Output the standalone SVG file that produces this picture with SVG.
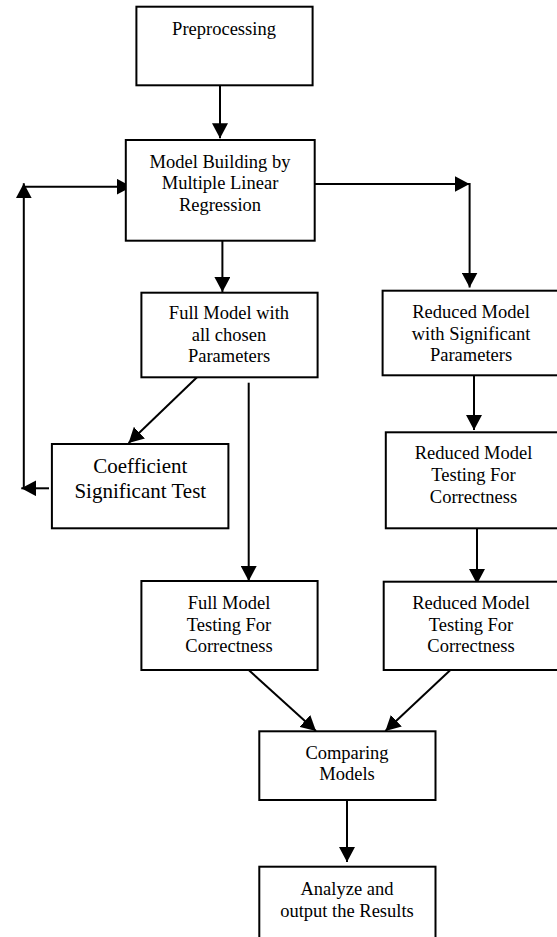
<svg xmlns="http://www.w3.org/2000/svg" width="557" height="937" viewBox="0 0 557 937">
<style>
.box{fill:#fff;stroke:#000;stroke-width:2}
.t{font-family:"Liberation Serif","Times New Roman",serif;font-size:18.5px;fill:#000;text-anchor:middle}
.big{font-size:21px}
.c{fill:none;stroke:#000;stroke-width:2}
</style>
<defs>
<marker id="ah" viewBox="0 0 15 16" refX="15" refY="8" markerWidth="15" markerHeight="16" orient="auto" markerUnits="userSpaceOnUse">
<path d="M0 0 L15 8 L0 16 Z" fill="#000"/>
</marker>
</defs>
<rect width="557" height="937" fill="#fff"/>
<g id="connectors">
<path class="c" d="M220 85.3 V138.3" marker-end="url(#ah)"/>
<path class="c" d="M222.4 240.7 V292" marker-end="url(#ah)"/>
<path class="c" d="M314.7 184 H469.6" marker-end="url(#ah)"/>
<path class="c" d="M469.6 183 V287.5" marker-end="url(#ah)"/>
<path class="c" d="M197 377.3 L128.6 443" marker-end="url(#ah)"/>
<path class="c" d="M248.7 382.7 V581" marker-end="url(#ah)"/>
<path class="c" d="M474 375.3 V430" marker-end="url(#ah)"/>
<path class="c" d="M477 524 V584" marker-end="url(#ah)"/>
<path class="c" d="M49 488.3 H21.3" marker-end="url(#ah)"/>
<path class="c" d="M23.8 489 V183.3" marker-end="url(#ah)"/>
<path class="c" d="M23.8 186.7 H131.7" marker-end="url(#ah)"/>
<path class="c" d="M248.7 670 L316 731" marker-end="url(#ah)"/>
<path class="c" d="M450.4 670 L385.4 731" marker-end="url(#ah)"/>
<path class="c" d="M347 800 V862" marker-end="url(#ah)"/>
</g>
<g id="preprocessing">
<rect class="box" x="136.4" y="6.7" width="176.2" height="78.6"/>
<text class="t" x="224" y="35">Preprocessing</text>
</g>
<g id="model-building">
<rect class="box" x="125.8" y="140" width="188.9" height="100.7"/>
<text class="t" x="220" y="168.3">Model Building by</text>
<text class="t" x="220" y="189.3">Multiple Linear</text>
<text class="t" x="220" y="210.7">Regression</text>
</g>
<g id="full-model">
<rect class="box" x="141.4" y="292.7" width="176.2" height="84.6"/>
<text class="t" x="229" y="319.3">Full Model with</text>
<text class="t" x="229" y="341">all chosen</text>
<text class="t" x="229" y="362">Parameters</text>
</g>
<g id="reduced-model">
<rect class="box" x="382.6" y="290.7" width="200" height="84.6"/>
<text class="t" x="471" y="318.3">Reduced Model</text>
<text class="t" x="471" y="340">with Significant</text>
<text class="t" x="471" y="361">Parameters</text>
</g>
<g id="coefficient-test">
<rect class="box" x="51.9" y="444" width="176.5" height="84.3"/>
<text class="t big" x="140.3" y="472.7">Coefficient</text>
<text class="t big" x="140.3" y="497.7">Significant Test</text>
</g>
<g id="reduced-testing-1">
<rect class="box" x="385.8" y="432.3" width="200" height="96"/>
<text class="t" x="473.5" y="459.3">Reduced Model</text>
<text class="t" x="473.5" y="481">Testing For</text>
<text class="t" x="473.5" y="502.7">Correctness</text>
</g>
<g id="full-testing">
<rect class="box" x="141.4" y="581" width="176.2" height="89"/>
<text class="t" x="229" y="609">Full Model</text>
<text class="t" x="229" y="630.7">Testing For</text>
<text class="t" x="229" y="652.3">Correctness</text>
</g>
<g id="reduced-testing-2">
<rect class="box" x="383.7" y="581.7" width="200" height="88.3"/>
<text class="t" x="471" y="609">Reduced Model</text>
<text class="t" x="471" y="630.7">Testing For</text>
<text class="t" x="471" y="652.3">Correctness</text>
</g>
<g id="comparing">
<rect class="box" x="259.3" y="731.3" width="176.2" height="68.7"/>
<text class="t" x="347" y="759.3">Comparing</text>
<text class="t" x="347" y="780">Models</text>
</g>
<g id="analyze">
<rect class="box" x="259.3" y="866.7" width="176.2" height="100"/>
<text class="t" x="347" y="895">Analyze and</text>
<text class="t" x="347" y="916.7">output the Results</text>
</g>
</svg>
